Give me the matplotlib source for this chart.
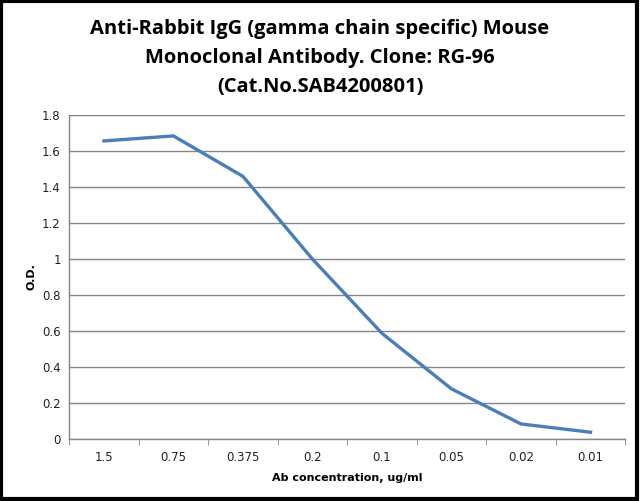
import matplotlib

matplotlib.use("Agg")

import matplotlib.pyplot as plt
from matplotlib.patches import Rectangle

concentrations = ["1.5", "0.75", "0.375", "0.2", "0.1", "0.05", "0.02", "0.01"]
od_values = [1.657, 1.685, 1.46, 1.0, 0.587, 0.278, 0.083, 0.037]
y_ticks = [0, 0.2, 0.4, 0.6, 0.8, 1.0, 1.2, 1.4, 1.6, 1.8]
y_tick_labels = ["0", "0.2", "0.4", "0.6", "0.8", "1", "1.2", "1.4", "1.6", "1.8"]

TITLE = ("Anti-Rabbit IgG (gamma chain specific) Mouse\n"
         "Monoclonal Antibody. Clone: RG-96\n"
         "(Cat.No.SAB4200801)")

fig = plt.figure(figsize=(6.4, 5.01), dpi=100)
ax = fig.add_axes([0.108, 0.124, 0.869, 0.646])

x = list(range(len(concentrations)))
ax.plot(x, od_values, color="#4A7EBB", linewidth=2.4, solid_joinstyle="miter")

ax.set_xlim(-0.5, len(concentrations) - 0.5)
ax.set_ylim(0, 1.8)
ax.set_yticks(y_ticks)
ax.set_yticklabels(y_tick_labels)
ax.set_xticks(x)
ax.set_xticklabels(concentrations)
ax.set_xticks([i + 0.5 for i in range(-1, len(concentrations))], minor=True)

ax.tick_params(axis="x", which="major", length=0, pad=9, labelsize=8.5, colors="#222222")
ax.tick_params(axis="x", which="minor", length=4, color="#868686", direction="out")
ax.tick_params(axis="y", length=0, pad=6, labelsize=8.5, colors="#222222")
ax.yaxis.grid(True, color="#868686", linewidth=1)
ax.set_axisbelow(True)

for side in ("top", "right"):
    ax.spines[side].set_visible(False)
for side in ("left", "bottom"):
    ax.spines[side].set_color("#868686")
    ax.spines[side].set_linewidth(1)

ax.set_xlabel("Ab concentration, ug/ml", fontsize=8, fontweight="bold", labelpad=6)
ax.set_ylabel("O.D.", fontsize=8, fontweight="bold", labelpad=4)

fig.text(0.5, 0.962, TITLE, ha="center", va="top", fontsize=14.5,
         fontweight="bold", family="Open Sans", linespacing=1.6)

fig.patches.append(Rectangle((0.002, 0.003), 0.994, 0.995, transform=fig.transFigure,
                             fill=False, edgecolor="black", linewidth=3))

fig.savefig("out.png", dpi=100)
